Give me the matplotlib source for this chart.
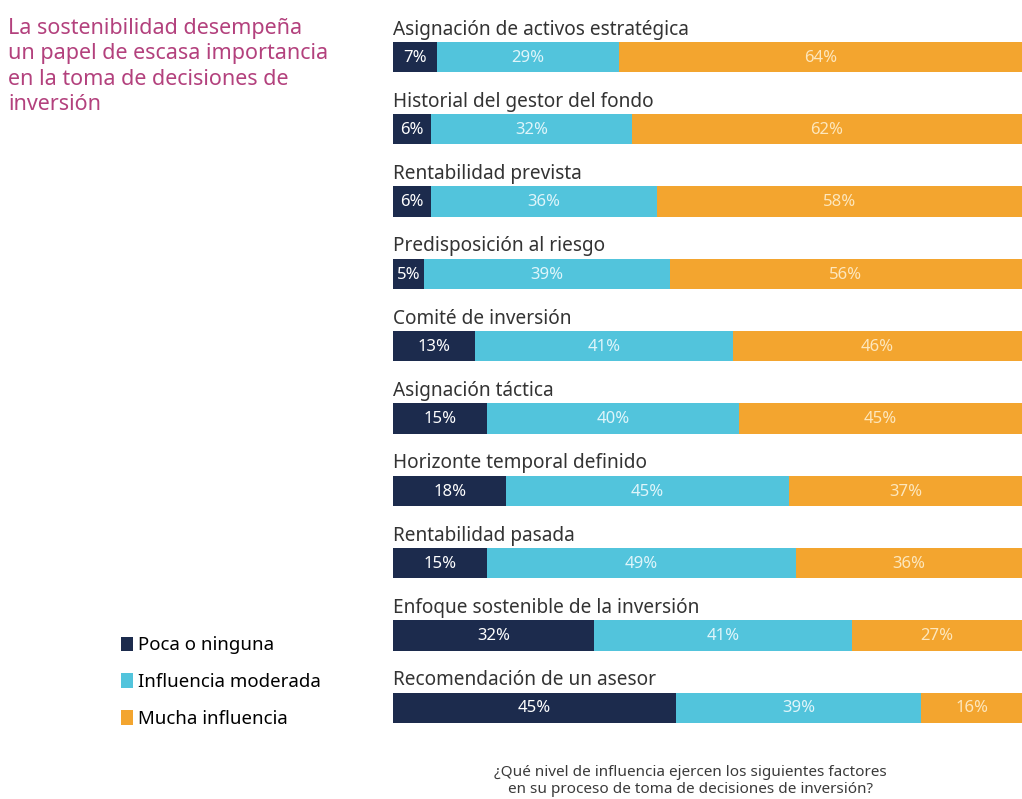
import matplotlib
matplotlib.use("Agg")
import matplotlib.pyplot as plt
import numpy as np

plt.rcParams['font.family'] = ['Noto Sans', 'DejaVu Sans']

# survey answers, one row per decision factor (shares in %)
factors = [
    "Asignación de activos estratégica",
    "Historial del gestor del fondo",
    "Rentabilidad prevista",
    "Predisposición al riesgo",
    "Comité de inversión",
    "Asignación táctica",
    "Horizonte temporal definido",
    "Rentabilidad pasada",
    "Enfoque sostenible de la inversión",
    "Recomendación de un asesor",
]
poca = [7, 6, 6, 5, 13, 15, 18, 15, 32, 45]
moderada = [29, 32, 36, 39, 41, 40, 45, 49, 41, 39]
mucha = [64, 62, 58, 56, 46, 45, 37, 36, 27, 16]

series_names = ["Poca o ninguna", "Influencia moderada", "Mucha influencia"]
colors = ["#1c2b4d", "#52c4dc", "#f3a52f"]
text_colors = ["#ffffff", "#dff5fa", "#fde7bd"]

title = ("La sostenibilidad desempeña\nun papel de escasa importancia\n"
         "en la toma de decisiones de\ninversión")
caption = ("¿Qué nivel de influencia ejercen los siguientes factores\n"
           "en su proceso de toma de decisiones de inversión?")

W, H = 1022, 799
fig = plt.figure(figsize=(W / 100, H / 100), dpi=100)
fig.patch.set_facecolor("white")

# axes spans the bar column on the right, full height
ax = fig.add_axes([393 / W, 0, 1 - 393 / W, 1])
step = 72.3
top = 57
ax.set_ylim((H - top) / step, -top / step)
ax.set_xlim(0, 100)
ax.axis("off")

y = np.arange(len(factors))
left = np.zeros(len(factors))
containers = []
for vals, name, col, tcol in zip([poca, moderada, mucha], series_names, colors, text_colors):
    vals = np.array(vals)
    bars = ax.barh(y, vals, left=left, height=0.42, color=col, label=name)
    containers.append(bars)
    for yi, l, v in zip(y, left, vals):
        ax.text(l + v / 2, yi + 0.01, f"{v}%", ha="center", va="center",
                color=tcol, fontsize=12)
    left = left + vals

for yi, name in zip(y, factors):
    ax.text(0, yi - 0.38, name, ha="left", va="center", fontsize=13.7,
            color="#333333", clip_on=False)

fig.text(8 / W, 1 - 18 / H, title, ha="left", va="top", fontsize=15.5,
         color="#b3417d", linespacing=1.27)

fig.legend(handles=containers, labels=series_names, loc="upper left",
           bbox_to_anchor=(114 / W, 1 - 629 / H), frameon=False,
           fontsize=13.4, handlelength=0.6, handleheight=0.85,
           handletextpad=0.3, labelspacing=1.0, borderaxespad=0)

fig.text(690 / W, 1 - 781 / H, caption, ha="center", va="center",
         fontsize=11, color="#3a3a3a", linespacing=1.15)

fig.savefig("out.png", dpi=100, facecolor="white")
